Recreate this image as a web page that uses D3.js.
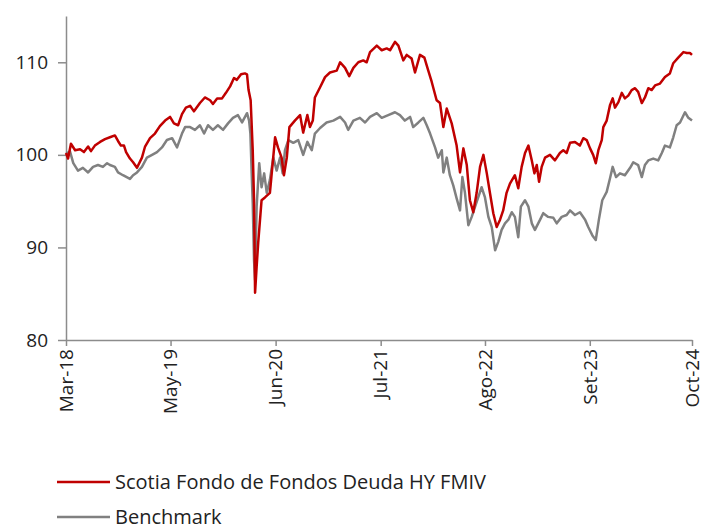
<!DOCTYPE html>
<html>
<head>
<meta charset="utf-8">
<script src="https://cdn.jsdelivr.net/npm/d3@7"></script>
<style>
    body { margin: 0; background: #fff; }
    svg text { font-family: "Open Sans", "Noto Sans", sans-serif; fill: #222; }
</style>
</head>
<body>
<div id="chart"></div>
<script>
// fund series (Scotia Fondo de Fondos Deuda HY FMIV)
const fundDates = ['2018-03-29','2018-04-06','2018-04-17','2018-05-03','2018-05-22','2018-06-06','2018-06-22','2018-07-03','2018-07-18','2018-08-07',
    '2018-08-26','2018-09-14','2018-10-03','2018-10-15','2018-10-26','2018-11-07','2018-11-15','2018-11-30','2018-12-12','2018-12-27',
    '2019-01-15','2019-01-27','2019-02-15','2019-03-06','2019-03-25','2019-04-14','2019-05-03','2019-05-18','2019-06-03','2019-06-18',
    '2019-07-03','2019-07-19','2019-08-03','2019-08-26','2019-09-14','2019-10-04','2019-10-15','2019-10-31','2019-11-19','2019-12-04',
    '2019-12-20','2020-01-04','2020-01-15','2020-01-31','2020-02-15','2020-02-23','2020-02-29','2020-03-08','2020-03-16','2020-03-21',
    '2020-03-25','2020-03-31','2020-04-06','2020-04-19','2020-05-02','2020-05-21','2020-06-10','2020-06-21','2020-07-05','2020-07-14',
    '2020-07-25','2020-08-04','2020-08-25','2020-09-14','2020-09-26','2020-10-12','2020-10-22','2020-11-02','2020-11-10','2020-11-30',
    '2020-12-19','2021-01-07','2021-02-02','2021-02-15','2021-03-06','2021-03-22','2021-04-07','2021-04-26','2021-05-15','2021-05-28',
    '2021-06-10','2021-07-06','2021-07-25','2021-08-13','2021-08-26','2021-09-14','2021-09-27','2021-10-16','2021-10-29','2021-11-17',
    '2021-11-30','2021-12-19','2022-01-05','2022-01-20','2022-02-02','2022-02-21','2022-03-06','2022-03-19','2022-04-01','2022-04-20',
    '2022-05-09','2022-05-22','2022-06-04','2022-06-17','2022-06-29','2022-07-12','2022-07-25','2022-08-07','2022-08-20','2022-09-02',
    '2022-09-14','2022-09-27','2022-10-10','2022-10-23','2022-11-04','2022-11-17','2022-11-30','2022-12-19','2023-01-01','2023-01-14',
    '2023-01-27','2023-02-09','2023-02-22','2023-03-04','2023-03-13','2023-03-22','2023-04-01','2023-04-14','2023-05-03','2023-05-22',
    '2023-06-10','2023-06-23','2023-07-06','2023-07-19','2023-08-07','2023-08-26','2023-09-08','2023-09-21','2023-10-04','2023-10-16',
    '2023-10-26','2023-11-05','2023-11-18','2023-11-24','2023-12-07','2023-12-20','2023-12-30','2024-01-08','2024-01-21','2024-02-03',
    '2024-02-15','2024-02-28','2024-03-12','2024-03-25','2024-04-06','2024-04-20','2024-05-02','2024-05-15','2024-05-28','2024-06-10',
    '2024-06-29','2024-07-18','2024-08-06','2024-08-19','2024-09-07','2024-09-27','2024-10-10','2024-10-22','2024-10-30'];
const fundValues = [100.2,99.6,101.2,100.5,100.6,100.3,100.9,100.4,101.0,101.4,
    101.7,101.9,102.1,101.5,101.0,101.0,100.3,99.6,99.2,98.6,
    99.7,100.9,101.8,102.3,103.1,103.7,104.1,103.4,103.2,104.4,
    105.1,105.3,104.7,105.6,106.2,105.9,105.5,106.1,106.1,106.7,
    107.4,108.3,108.1,108.7,108.8,108.7,107.0,105.9,100.5,95.1,
    85.1,87.9,90.5,95.1,95.4,95.9,101.9,100.8,99.7,97.8,
    99.7,103.0,103.7,104.3,102.4,104.3,103.0,103.7,106.2,107.3,
    108.4,108.9,109.1,110.0,109.4,108.5,109.4,110.0,110.2,110.0,
    111.1,111.8,111.3,111.5,111.3,112.2,111.8,110.2,110.8,110.4,
    108.9,110.8,110.5,109.1,107.9,105.9,105.6,103.0,105.0,103.4,
    101.0,98.1,100.7,98.9,95.1,93.8,95.9,98.7,100.0,98.0,
    95.9,93.7,92.2,93.0,94.0,95.9,96.9,97.8,96.4,98.7,
    100.2,101.0,99.4,98.0,98.9,97.1,98.7,99.7,100.0,99.4,
    100.2,100.5,100.2,101.3,101.4,101.0,101.8,101.6,100.7,100.0,
    99.1,100.5,101.6,103.0,103.7,105.4,106.1,105.1,105.7,106.7,
    106.1,106.4,107.0,107.2,106.8,105.6,106.2,107.2,107.0,107.5,
    107.7,108.4,108.8,109.9,110.5,111.1,111.0,111.0,110.8];

// benchmark series
const benchDates = ['2018-03-29','2018-04-13','2018-04-26','2018-05-14','2018-06-02','2018-06-22','2018-07-11','2018-07-30','2018-08-18','2018-09-03',
    '2018-09-14','2018-10-03','2018-10-15','2018-11-03','2018-11-30','2018-12-12','2018-12-27','2019-01-15','2019-02-03','2019-02-23',
    '2019-03-14','2019-04-02','2019-04-21','2019-05-11','2019-05-30','2019-06-18','2019-06-30','2019-07-19','2019-08-07','2019-08-26',
    '2019-09-11','2019-09-26','2019-10-15','2019-11-03','2019-11-23','2019-12-12','2019-12-31','2020-01-19','2020-02-04','2020-02-23',
    '2020-03-02','2020-03-07','2020-03-12','2020-03-16','2020-03-21','2020-03-25','2020-03-31','2020-04-10','2020-04-19','2020-04-29',
    '2020-05-09','2020-05-21','2020-06-03','2020-06-16','2020-06-29','2020-07-09','2020-07-18','2020-07-31','2020-08-19','2020-09-07',
    '2020-09-26','2020-10-12','2020-10-29','2020-11-10','2020-11-30','2020-12-25','2021-01-20','2021-02-15','2021-03-06','2021-03-18',
    '2021-04-07','2021-05-02','2021-05-22','2021-06-10','2021-07-06','2021-07-25','2021-08-19','2021-09-14','2021-10-03','2021-10-22',
    '2021-11-11','2021-11-23','2021-12-13','2022-01-01','2022-01-14','2022-01-27','2022-02-15','2022-02-27','2022-03-13','2022-03-19',
    '2022-04-01','2022-04-13','2022-04-26','2022-05-09','2022-05-22','2022-05-31','2022-06-10','2022-06-23','2022-07-06','2022-07-19',
    '2022-07-31','2022-08-13','2022-08-26','2022-09-08','2022-09-21','2022-10-04','2022-10-16','2022-10-29','2022-11-11','2022-11-24',
    '2022-12-07','2022-12-19','2023-01-01','2023-01-11','2023-01-27','2023-02-09','2023-02-22','2023-03-06','2023-03-26','2023-04-07',
    '2023-04-26','2023-05-16','2023-05-29','2023-06-17','2023-07-06','2023-07-19','2023-08-07','2023-08-26','2023-09-15','2023-09-27',
    '2023-10-13','2023-10-26','2023-11-07','2023-11-20','2023-12-07','2023-12-20','2023-12-30','2024-01-12','2024-01-27','2024-02-15',
    '2024-03-06','2024-03-18','2024-04-06','2024-04-20','2024-05-02','2024-05-15','2024-06-03','2024-06-22','2024-07-06','2024-07-18',
    '2024-08-06','2024-08-19','2024-09-01','2024-09-14','2024-10-03','2024-10-16','2024-10-30'];
const benchValues = [100.1,100.4,99.1,98.3,98.6,98.1,98.7,98.9,98.7,99.1,
    98.9,98.7,98.1,97.8,97.4,97.8,98.1,98.7,99.7,100.0,
    100.3,100.8,101.6,101.8,100.8,102.3,103.0,103.0,102.7,103.2,
    102.3,103.2,102.7,103.2,102.7,103.4,104.0,104.3,103.5,104.5,
    103.7,102.3,98.0,94.8,88.6,86.5,94.4,99.1,96.5,98.0,
    95.9,97.3,99.7,98.3,99.7,98.0,100.5,101.6,101.3,101.6,
    100.0,101.4,100.5,102.3,102.9,103.5,103.7,104.1,103.5,102.7,
    103.7,104.0,103.5,104.1,104.5,104.0,104.3,104.6,104.3,103.7,
    104.1,103.0,103.5,104.0,103.2,102.3,100.8,99.7,100.5,98.1,
    99.7,97.8,96.7,95.3,94.0,97.6,95.9,92.4,93.3,94.4,
    95.4,96.5,95.4,93.3,92.2,89.7,90.6,91.9,92.6,93.0,
    93.8,93.3,91.1,94.4,95.1,94.4,92.6,91.9,93.0,93.7,
    93.3,93.2,92.6,93.3,93.5,94.0,93.5,93.8,93.0,92.2,
    91.3,90.8,93.0,95.1,96.0,97.5,98.7,97.6,98.0,97.8,
    98.6,99.2,98.9,97.6,98.9,99.4,99.6,99.4,100.2,101.0,
    100.8,101.9,103.2,103.5,104.6,104.0,103.7];

// x axis ticks (category labels as printed)
const tickDates = ['2018-03-29','2019-05-05','2020-06-12','2021-07-21','2022-08-26','2023-10-03','2024-10-30'];
const tickLabels = ['Mar-18','May-19','Jun-20','Jul-21','Ago-22','Set-23','Oct-24'];
const yTicks = [80, 90, 100, 110];

const seriesNames = ['Scotia Fondo de Fondos Deuda HY FMIV', 'Benchmark'];
const seriesColors = ['#c00000', '#808080'];

const parse = d3.timeParse('%Y-%m-%d');
const width = 701, height = 527;
const margin = {left: 66, right: 9, top: 16, bottom: 187};

const svg = d3.select('#chart').append('svg')
    .attr('width', width)
    .attr('height', height);

const x = d3.scaleTime()
    .domain([parse(fundDates[0]), parse(fundDates[fundDates.length - 1])])
    .range([margin.left, width - margin.right]);

const y = d3.scaleLinear()
    .domain([80, 115])
    .range([height - margin.bottom, margin.top]);

const axisColor = '#8c8c8c';

// y axis
const yAxis = svg.append('g')
    .attr('transform', `translate(${margin.left},0)`)
    .call(d3.axisLeft(y).tickValues(yTicks).tickSize(8).tickPadding(10).tickSizeOuter(0));
yAxis.select('.domain').attr('stroke', axisColor).attr('stroke-width', 1.5);
yAxis.selectAll('.tick line').attr('stroke', axisColor).attr('stroke-width', 1.5);
yAxis.selectAll('.tick text').attr('font-size', 19).style('fill', '#222');

// x axis
const xAxis = svg.append('g')
    .attr('transform', `translate(0,${height - margin.bottom})`)
    .call(d3.axisBottom(x)
        .tickValues(tickDates.map(parse))
        .tickFormat((d, i) => tickLabels[i])
        .tickSize(6)
        .tickSizeOuter(0));
xAxis.select('.domain').attr('stroke', axisColor).attr('stroke-width', 1.5);
xAxis.selectAll('.tick line').attr('stroke', axisColor).attr('stroke-width', 1.5);
xAxis.selectAll('.tick text')
    .attr('font-size', 19)
    .style('fill', '#222')
    .attr('text-anchor', 'end')
    .attr('transform', 'rotate(-90)')
    .attr('x', -9)
    .attr('y', 0)
    .attr('dy', '0.33em');

const line = d3.line()
    .x(d => x(d.date))
    .y(d => y(d.value))
    .curve(d3.curveLinear);

const benchData = benchDates.map((d, i) => ({date: parse(d), value: benchValues[i]}));
const fundData = fundDates.map((d, i) => ({date: parse(d), value: fundValues[i]}));

svg.append('path')
    .datum(benchData)
    .attr('fill', 'none')
    .attr('stroke', seriesColors[1])
    .attr('stroke-width', 2.5)
    .attr('stroke-linejoin', 'round')
    .attr('d', line);

svg.append('path')
    .datum(fundData)
    .attr('fill', 'none')
    .attr('stroke', seriesColors[0])
    .attr('stroke-width', 2.5)
    .attr('stroke-linejoin', 'round')
    .attr('d', line);

// legend
const legend = svg.append('g').attr('transform', 'translate(57,482)');
seriesNames.forEach((name, i) => {
    const g = legend.append('g').attr('transform', `translate(0,${i * 35})`);
    g.append('line')
        .attr('x1', 0).attr('x2', 53)
        .attr('stroke', seriesColors[i])
        .attr('stroke-width', 2.5);
    g.append('text')
        .attr('x', 58)
        .attr('dy', '0.35em')
        .attr('font-size', 20)
        .text(name);
});
</script>
</body>
</html>
